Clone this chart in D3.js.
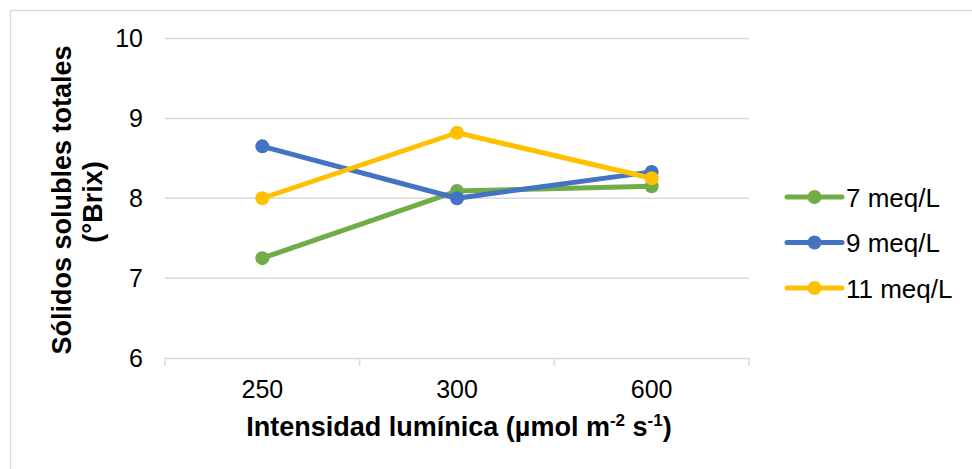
<!DOCTYPE html>
<html>
<head>
<meta charset="utf-8">
<script src="https://cdn.jsdelivr.net/npm/d3@7/dist/d3.min.js"></script>
<style>
  html, body { margin: 0; padding: 0; background: #fff; }
  svg { display: block; font-family: "Liberation Sans", Arial, sans-serif; }
</style>
</head>
<body>
<svg id="chart" width="972" height="469"></svg>
<script>
// Light intensity levels (x categories)
const categories = ["250", "300", "600"];
// Total soluble solids (°Brix) per nutrient concentration
const seriesNames = ["7 meq/L", "9 meq/L", "11 meq/L"];
const values7 = [7.25, 8.09, 8.15];
const values9 = [8.65, 8.00, 8.33];
const values11 = [8.00, 8.82, 8.25];
const yTicks = [6, 7, 8, 9, 10];
const colors = ["#70AD47", "#4472C4", "#FFC000"];

const series = [
  { name: seriesNames[0], values: values7, color: colors[0] },
  { name: seriesNames[1], values: values9, color: colors[1] },
  { name: seriesNames[2], values: values11, color: colors[2] }
];

const svg = d3.select("#chart");

// Outer chart frame
svg.append("rect")
  .attr("x", 10.5).attr("y", 10.5)
  .attr("width", 980).attr("height", 480)
  .attr("fill", "#fff").attr("stroke", "#d9d9d9").attr("stroke-width", 1.5);

const plot = { left: 165, right: 749, top: 38.5, bottom: 358 };

const x = d3.scaleBand().domain(categories).range([plot.left, plot.right]);
const y = d3.scaleLinear().domain([6, 10]).range([plot.bottom, plot.top]);
const cx = c => x(c) + x.bandwidth() / 2;

// Horizontal gridlines
svg.append("g")
  .selectAll("line")
  .data(yTicks.filter(t => t > 6))
  .join("line")
  .attr("x1", plot.left).attr("x2", plot.right)
  .attr("y1", d => y(d)).attr("y2", d => y(d))
  .attr("stroke", "#d9d9d9").attr("stroke-width", 1.5);

// Y axis labels
const yAxis = svg.append("g")
  .attr("transform", `translate(${plot.left},0)`)
  .call(d3.axisLeft(y).tickValues(yTicks).tickSize(0).tickPadding(22).tickFormat(d3.format("d")));
yAxis.select(".domain").remove();
yAxis.selectAll("text")
  .attr("font-size", 25).attr("fill", "#000").attr("font-family", "Liberation Sans, Arial, sans-serif");

// X axis with category ticks at band boundaries
const xAxis = svg.append("g")
  .attr("transform", `translate(0,${plot.bottom})`)
  .call(d3.axisBottom(x).tickSize(0).tickPadding(22));
xAxis.select(".domain").attr("stroke", "#d9d9d9").attr("stroke-width", 1.5);
xAxis.selectAll("text")
  .attr("font-size", 25).attr("fill", "#000").attr("font-family", "Liberation Sans, Arial, sans-serif");
const bounds = categories.map(c => x(c)).concat([plot.right]);
svg.append("g")
  .selectAll("line")
  .data(bounds)
  .join("line")
  .attr("x1", d => d).attr("x2", d => d)
  .attr("y1", plot.bottom).attr("y2", plot.bottom + 8)
  .attr("stroke", "#d9d9d9").attr("stroke-width", 1.5);

// Series lines and markers
const line = d3.line()
  .x((d, i) => cx(categories[i]))
  .y(d => y(d));

series.forEach(s => {
  const g = svg.append("g");
  g.append("path")
    .datum(s.values)
    .attr("d", line)
    .attr("fill", "none")
    .attr("stroke", s.color)
    .attr("stroke-width", 5)
    .attr("stroke-linejoin", "round")
    .attr("stroke-linecap", "round");
  g.selectAll("circle")
    .data(s.values)
    .join("circle")
    .attr("cx", (d, i) => cx(categories[i]))
    .attr("cy", d => y(d))
    .attr("r", 7)
    .attr("fill", s.color);
});

// Legend
const legend = svg.append("g");
series.forEach((s, i) => {
  const ly = 197 + i * 45.5;
  legend.append("line")
    .attr("x1", 787).attr("x2", 842)
    .attr("y1", ly).attr("y2", ly)
    .attr("stroke", s.color).attr("stroke-width", 5)
    .attr("stroke-linecap", "round");
  legend.append("circle")
    .attr("cx", 814.5).attr("cy", ly).attr("r", 7).attr("fill", s.color);
  legend.append("text")
    .attr("x", 846).attr("y", ly + 9.5)
    .attr("font-size", 26).attr("fill", "#000")
    .text(s.name);
});

// X axis title with superscripts
const xt = svg.append("text")
  .attr("x", (plot.left + plot.right) / 2 + 2).attr("y", 436)
  .attr("text-anchor", "middle")
  .attr("font-size", 27).attr("font-weight", "bold").attr("fill", "#000");
xt.append("tspan").text("Intensidad lumínica (µmol m");
xt.append("tspan").attr("font-size", 17).attr("dy", -10).text("-2");
xt.append("tspan").attr("dy", 10).text(" s");
xt.append("tspan").attr("font-size", 17).attr("dy", -10).text("-1");
xt.append("tspan").attr("dy", 10).text(")");

// Y axis title (two lines, rotated)
const yt = svg.append("text")
  .attr("transform", "rotate(-90)")
  .attr("text-anchor", "middle")
  .attr("font-size", 27).attr("font-weight", "bold").attr("fill", "#000");
yt.append("tspan").attr("x", -200).attr("y", 71).text("Sólidos solubles totales");
yt.append("tspan").attr("x", -202).attr("y", 102).text("(°Brix)");
</script>
</body>
</html>
